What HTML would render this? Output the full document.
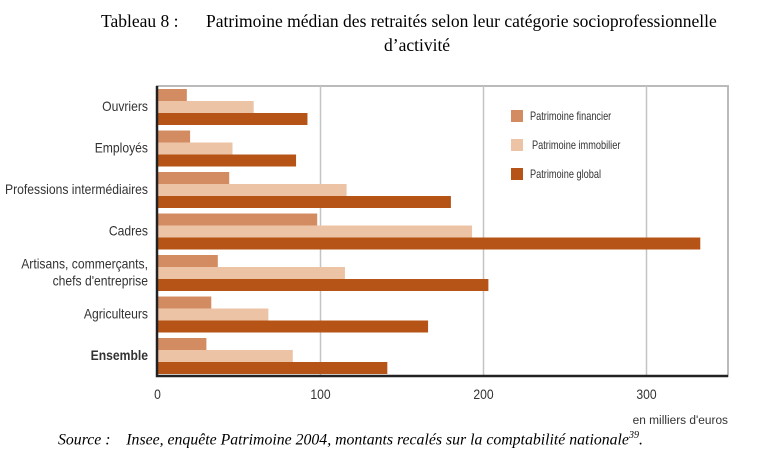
<!DOCTYPE html>
<html><head><meta charset="utf-8"><style>
body{margin:0;background:#fff;width:782px;height:456px;overflow:hidden;position:relative;font-family:"Liberation Sans",sans-serif}
.t{position:absolute;font-family:"Liberation Serif",serif;color:#000}
</style></head><body>
<div class="t" style="left:101px;top:9px;width:660px;font-size:17.5px;line-height:24px">
<span style="position:absolute;left:0;white-space:nowrap">Tableau 8 :</span>
<span style="position:absolute;left:105px;white-space:nowrap">Patrimoine médian des retraités selon leur catégorie socioprofessionnelle</span>
<span style="position:absolute;left:283px;top:24px;white-space:nowrap">d’activité</span></div>
<svg id="c" width="782" height="456" style="position:absolute;left:0;top:0"></svg>
<div class="t" style="left:58px;top:430px;font-size:15.8px;font-style:italic;white-space:nowrap">Source :&nbsp;&nbsp;&nbsp; Insee, enquête Patrimoine 2004, montants recalés sur la comptabilité nationale<sup style="font-size:10px">39</sup>.</div>
<script>
const categories=["Ouvriers","Employés","Professions intermédiaires","Cadres","Artisans, commerçants, chefs d'entreprise","Agriculteurs","Ensemble"];
const financier=[18,20,44,98,37,33,30];
const immobilier=[59,46,116,193,115,68,83];
const global=[92,85,180,333,203,166,141];
const ticks=[0,100,200,300];
const seriesNames=["Patrimoine financier","Patrimoine immobilier","Patrimoine global"];
const colors=["#d38c62","#edc3a5","#b55416"];
const svg=document.getElementById('c');const NS="http://www.w3.org/2000/svg";
const x=v=>157.5+v*1.63;
const gy=i=>89+i*41.5;
function mk(t,a,p){const e=document.createElementNS(NS,t);for(const k in a)e.setAttribute(k,a[k]);(p||svg).appendChild(e);return e;}
let f=mk('rect',{x:157,y:86,width:571,height:290,fill:'none',stroke:'#bbb','stroke-width':2});

ticks.forEach(t=>{if(t>0){let g=mk('line',{x1:x(t),x2:x(t),y1:86,y2:376,stroke:'#c4c4c4','stroke-width':1.5});
}
let l=mk('text',{x:0,y:0,'text-anchor':'middle','font-size':13.5,fill:'#333',transform:`translate(${x(t)},399) scale(0.9,1)`});l.textContent=t;
});
const series=[financier,immobilier,global];
categories.forEach((c,i)=>{series.forEach((s,j)=>{let r=mk('rect',{x:x(0),y:gy(i)+j*12,width:x(s[i])-x(0),height:12,fill:colors[j]});
});
const lines=c==="Artisans, commerçants, chefs d'entreprise"?["Artisans, commerçants,","chefs d'entreprise"]:[c];
lines.forEach((ln,k)=>{const yy=gy(i)+22+(k-(lines.length-1)/2)*17;
let t=mk('text',{x:0,y:0,'text-anchor':'end','font-size':13.5,fill:'#333','font-weight':c==="Ensemble"?'bold':'normal',transform:`translate(148,${yy}) scale(0.9,1)`});
t.textContent=ln;});});
let ax=mk('path',{d:'M157,86 V376 H728',fill:'none',stroke:'#222','stroke-width':2.5});

seriesNames.forEach((n,j)=>{let r=mk('rect',{x:511,y:110+j*29,width:12,height:12,fill:colors[j]});

let t=mk('text',{x:0,y:0,'font-size':11.5,fill:'#333',transform:`translate(${530+(j==1?2:0)},${120+j*29}) scale(0.8,1)`});t.textContent=n;
});
let u=mk('text',{x:0,y:0,'text-anchor':'end','font-size':12,fill:'#333',transform:'translate(728,424) scale(0.99,1)'});u.textContent="en milliers d'euros";

</script></body></html>
